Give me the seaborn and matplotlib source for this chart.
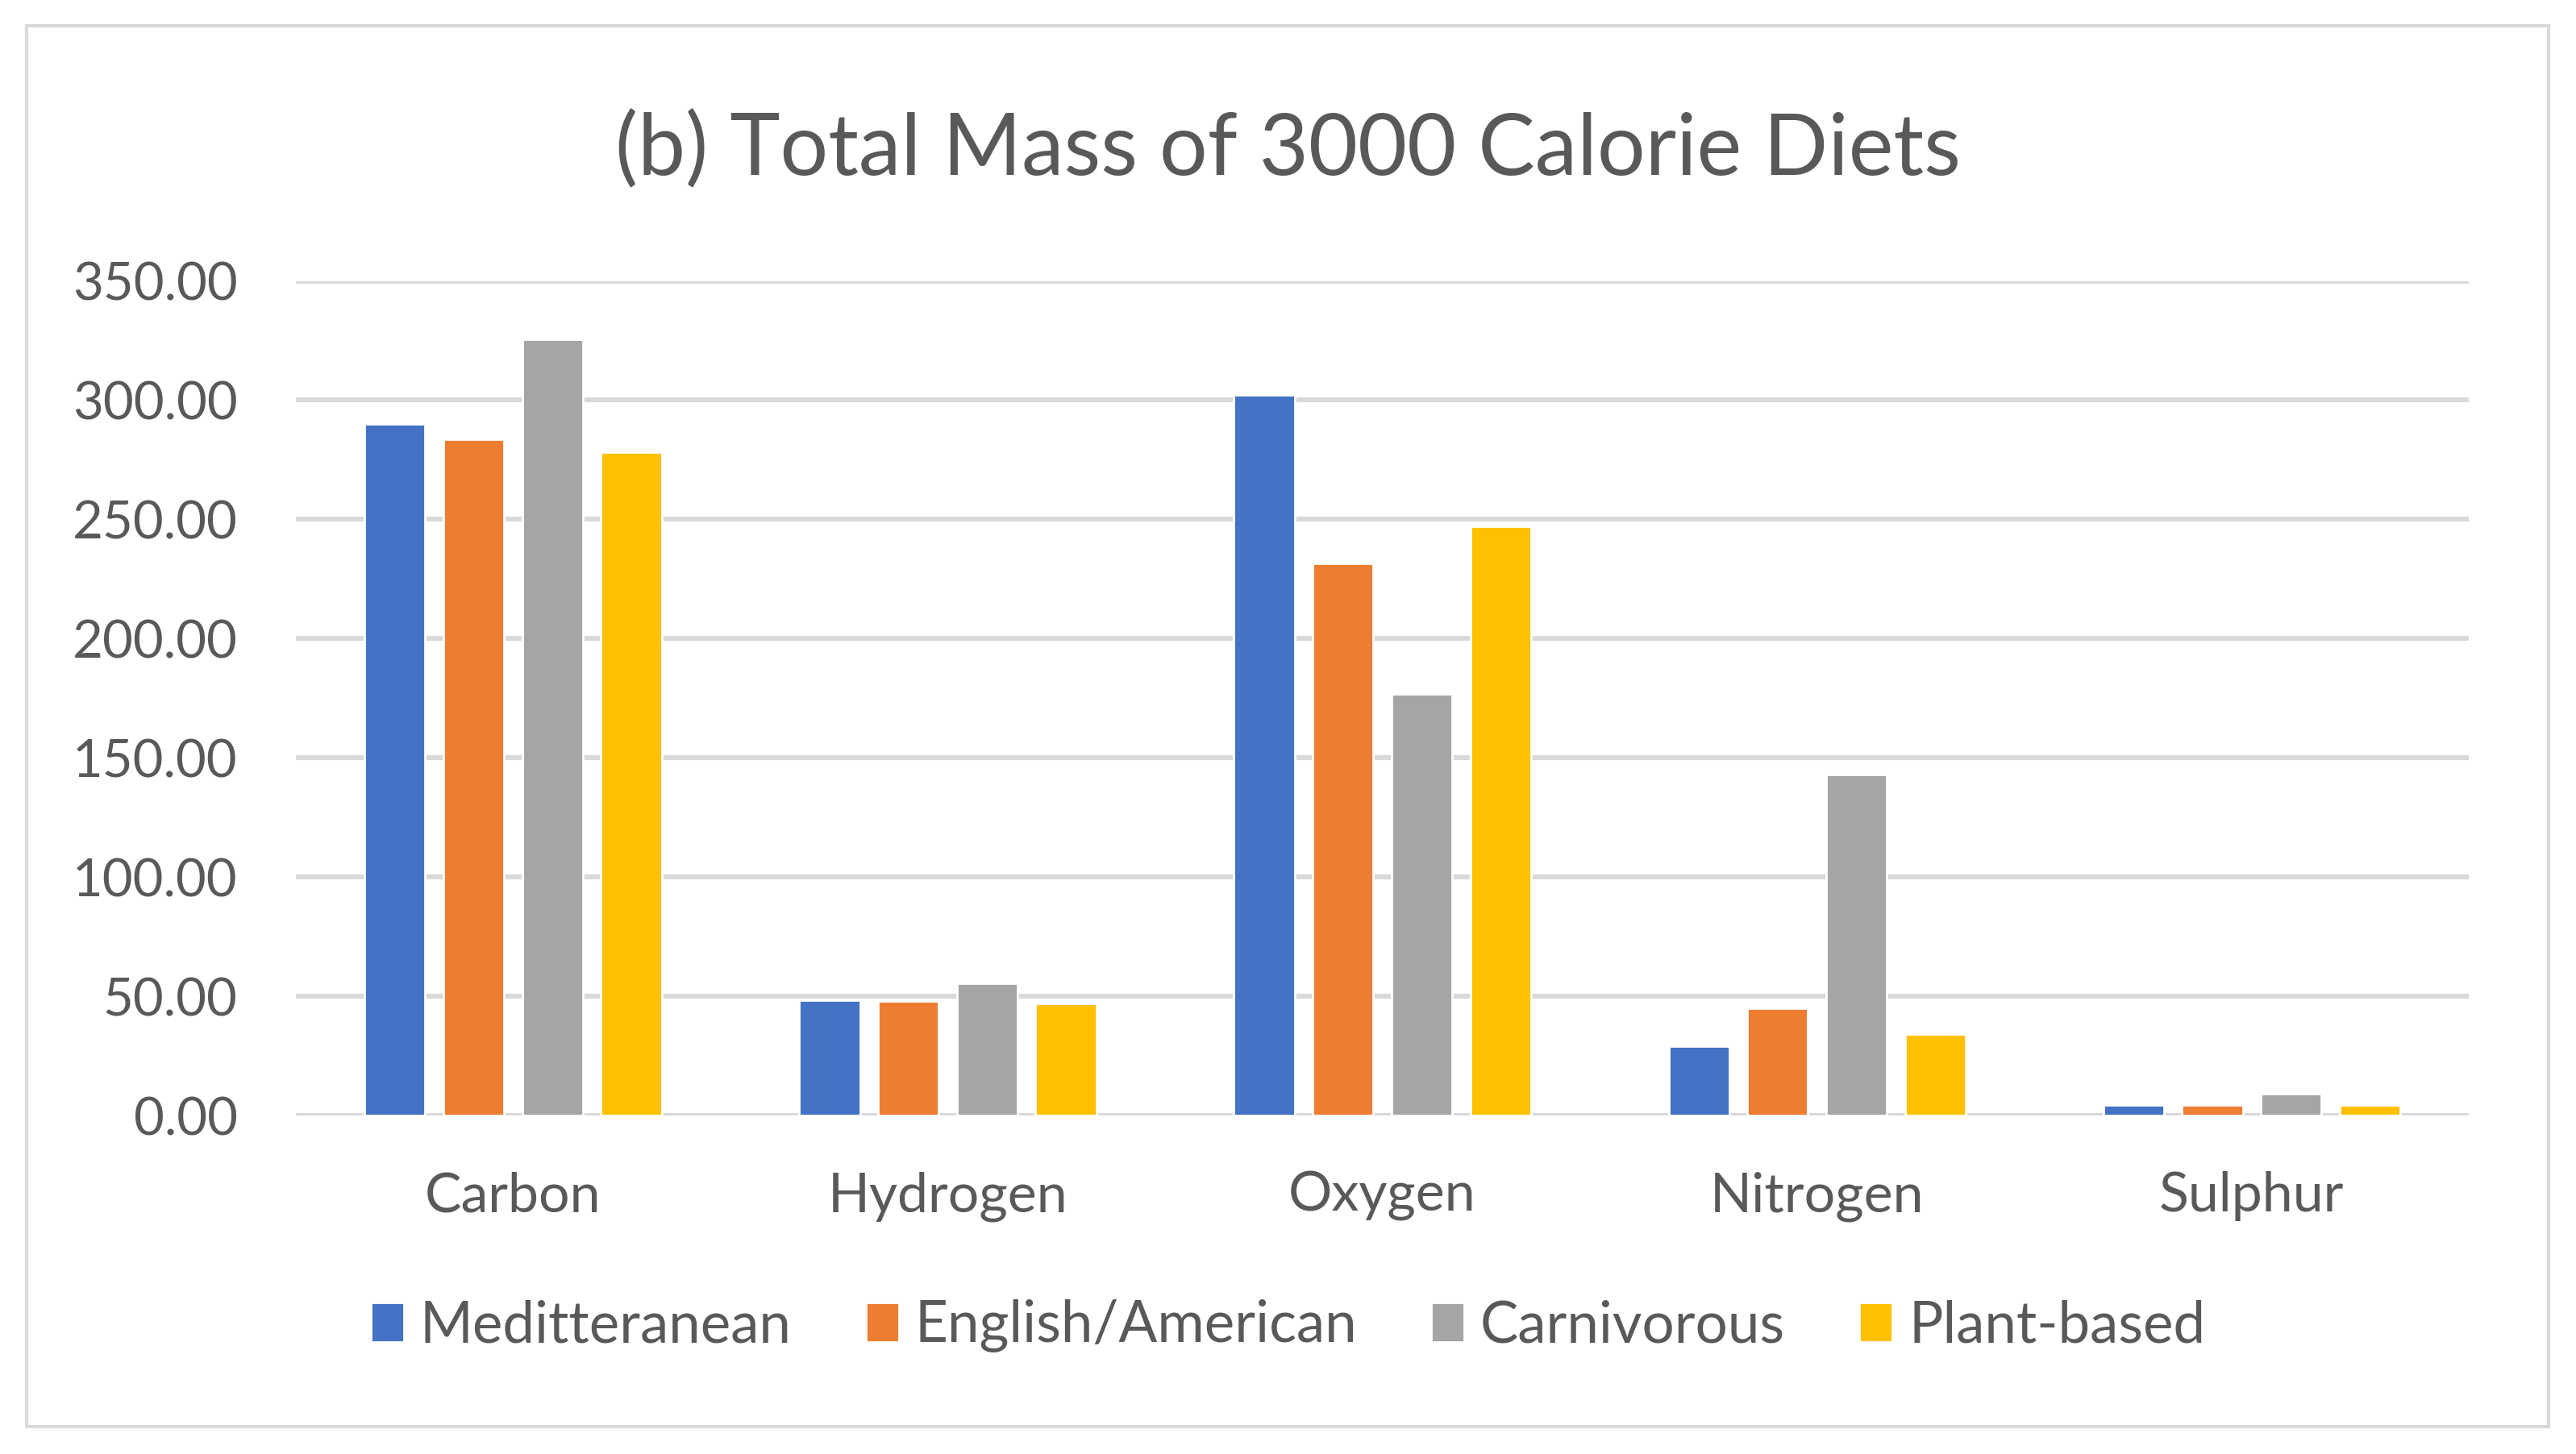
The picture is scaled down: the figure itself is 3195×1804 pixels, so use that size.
import pandas as pd
import matplotlib.pyplot as plt
import seaborn as sns
from matplotlib.patches import Rectangle

# values
elements = ['Carbon', 'Hydrogen', 'Oxygen', 'Nitrogen', 'Sulphur']
diets = ['Meditteranean', 'English/American', 'Carnivorous', 'Plant-based']
mediterranean = [290.0, 48.4, 302.2, 29.2, 4.5]
english_american = [283.6, 47.9, 231.7, 44.8, 4.5]
carnivorous = [325.5, 55.3, 176.9, 143.0, 9.3]
plant_based = [278.1, 46.9, 247.1, 34.2, 4.5]
colors = ['#4472C4', '#ED7D31', '#A5A5A5', '#FFC000']

df = pd.DataFrame({
    'Element': elements * 4,
    'Diet': [d for d in diets for _ in elements],
    'Mass': mediterranean + english_american + carnivorous + plant_based,
})

sns.set_theme(style='white')
plt.rcParams['font.family'] = ['Lato', 'DejaVu Sans']
text_col = '#595959'

fig = plt.figure(figsize=(15.975, 9.02), dpi=200)
ax = fig.add_axes([0.1148, 0.2328, 0.8437, 0.574])

sns.barplot(data=df, x='Element', y='Mass', hue='Diet', order=elements,
            hue_order=diets, palette=colors, width=0.725, gap=0.23,
            saturation=1, errorbar=None, ax=ax, zorder=3)

ax.set_ylim(0, 350)
ax.set_xlim(-0.5, 4.5)
ax.set_yticks(range(0, 351, 50))
ax.set_yticklabels([f'{v:.2f}' for v in range(0, 351, 50)])
ax.yaxis.grid(True, color='#D9D9D9', linewidth=2.2, zorder=0)
ax.set_axisbelow(True)
for s in ax.spines.values():
    s.set_visible(False)
ax.tick_params(axis='y', length=0, pad=26, labelsize=23.5, labelcolor=text_col)
ax.tick_params(axis='x', length=0, pad=25, labelsize=24.5, labelcolor=text_col)
ax.set_xlabel('')
ax.set_ylabel('')

fig.text(0.5, 0.897, '(b) Total Mass of 3000 Calorie Diets', ha='center',
         va='center', fontsize=38, color=text_col)

handles, labels = ax.get_legend_handles_labels()
ax.legend_.remove()
fig.legend(handles, labels, loc='center', bbox_to_anchor=(0.5, 0.088), ncol=4,
           frameon=False, fontsize=25.5, labelcolor=text_col, handlelength=0.58,
           handleheight=0.7, handletextpad=0.28, columnspacing=1.3)

# light grey chart border
fig.patches.append(Rectangle((0.0103, 0.019), 0.979, 0.963, transform=fig.transFigure,
                             fill=False, edgecolor='#D9D9D9', linewidth=1.5))

fig.savefig('out.png', dpi=200, facecolor='white')
